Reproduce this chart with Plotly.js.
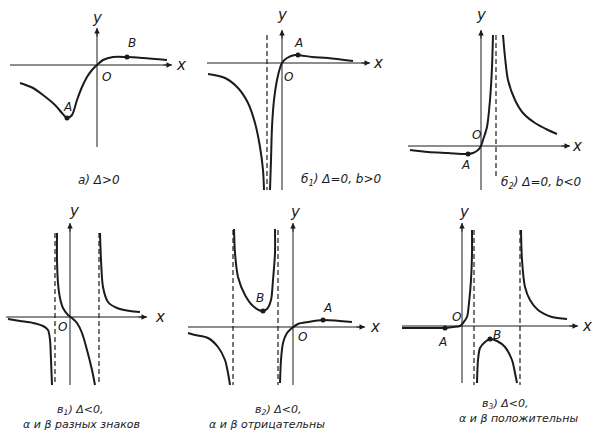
<!DOCTYPE html>
<html><head><meta charset="utf-8">
<script src="https://cdn.plot.ly/plotly-3.0.1.min.js"></script>
<style>html,body{margin:0;padding:0;background:#fff}#c{width:594px;height:433px}</style>
</head><body><div id="c"></div>
<script>
// ---- data (local coordinates, origin at the axes crossing, y up) ----
// panel a) Δ>0
const aX=[-77,-64,-54,-42,-35,-30,-25,-20,-15,-10,-5,0,6,16,30,46,70];
const aY=[-18,-23,-30,-40,-48,-53,-50,-35,-22,-12,-5,0,5,8,8,7,5];
const aPts=[[-30,30],[-53,8]];
// panel б1) Δ=0, b>0
const b1LX=[-74,-57,-44,-34,-27,-22,-19,-18];
const b1LY=[-11,-15,-25,-40,-60,-84,-107,-127];
const b1RX=[-12,-11,-10,-8,-5,-2,0,5,13,30,46,71];
const b1RY=[-127,-97,-64,-37,-17,-5,0,5,8,6,5,2];
const b1Asym=[-15];
const b1Pts=[[16],[8]];
// panel б2) Δ=0, b<0
const b2LX=[-71,-53,-33,-14,-8,-3,0,2,6,9,11,12];
const b2LY=[-4,-6,-7,-8,-7,-4,0,6,19,46,79,111];
const b2RX=[22,24,27,34,42,54,67,76];
const b2RY=[111,89,66,46,33,23,16,12];
const b2Asym=[15];
const b2Pts=[[-13],[-8]];
// panel в1) Δ<0, α и β разных знаков
const c1LX=[-62,-50,-37,-27,-22,-20,-19,-18];
const c1LY=[-2,-4,-6,-9,-13,-23,-43,-68];
const c1MX=[-13,-13,-12,-10,-7,-2,2,7,12,17,22,25];
const c1MY=[84,57,34,19,9,2,-1,-6,-16,-33,-53,-68];
const c1RX=[30,31,33,38,47,60,70];
const c1RY=[84,57,30,15,9,6,5];
const c1Asym=[-15,29];
// panel в2) Δ<0, α и β отрицательны
const c2LX=[-105,-98,-85,-75,-68,-65,-63];
const c2LY=[-6,-8,-11,-20,-33,-46,-58];
const c2MX=[-59,-58,-55,-48,-40,-31,-26,-22,-20,-18,-18];
const c2MY=[98,74,50,32,21,16,18,27,47,74,98];
const c2RX=[-13,-12,-10,-6,-1,5,15,30,59];
const c2RY=[-56,-33,-16,-6,-1,3,5,7,5];
const c2Asym=[-60,-15];
const c2Pts=[[-30,30],[16,7]];
// panel в3) Δ<0, α и β положительны
const c3LX=[-60,-40,-17,-9,-2,1,5,7,9,10,10];
const c3LY=[-2,-2,-2,-1,0,3,9,23,46,73,96];
const c3MX=[15,16,18,23,28,35,43,50,53,55];
const c3MY=[-57,-34,-22,-16,-13,-15,-21,-34,-47,-57];
const c3RX=[59,60,63,68,76,90,105];
const c3RY=[96,66,39,26,16,9,7];
const c3Asym=[12,58];
const c3Pts=[[-17,28],[-2,-13]];

// captions / labels
const captions=[
 ['а) Δ&gt;0'],
 ['б<sub>1</sub>) Δ=0, b&gt;0'],
 ['б<sub>2</sub>) Δ=0, b&lt;0'],
 ['в<sub>1</sub>) Δ&lt;0,','α и β разных знаков'],
 ['в<sub>2</sub>) Δ&lt;0,','α и β отрицательны'],
 ['в<sub>3</sub>) Δ&lt;0,','α и β положительны']
];

// ---- layout of panels (pixel boxes on the page, origin pixel) ----
const W=594,H=433;
const panels=[
 {box:[0,195,0,200],o:[97,65],curves:[[aX,aY]],asym:[],asymY:[0,0],pts:aPts,
  axX:[-87,75],axY:[-82,37],
  labels:[['y',0,47],['x',84,0],['O',9,-12],['A',-30,-42],['B',35,22]],
  cap:[[2,-115]],capSize:12},
 {box:[195,395,0,200],o:[282,63],curves:[[b1LX,b1LY],[b1RX,b1RY]],asym:b1Asym,asymY:[28,-127],pts:b1Pts,
  axX:[-75,88],axY:[-127,33],
  labels:[['y',0,48],['x',96,0],['O',6,-14],['A',16,20]],
  cap:[[59,-117]],capSize:12},
 {box:[395,594,0,200],o:[481,146],curves:[[b2LX,b2LY],[b2RX,b2RY]],asym:b2Asym,asymY:[111,-31],pts:b2Pts,
  axX:[-73,89],axY:[-44,116],
  labels:[['y',0,131],['x',96,0],['O',-5,11],['A',-16,-19]],
  cap:[[60,-37]],capSize:12},
 {box:[0,185,200,433],o:[70,317],curves:[[c1LX,c1LY],[c1MX,c1MY],[c1RX,c1RY]],asym:c1Asym,asymY:[84,-68],pts:[[],[]],
  axX:[-64,77],axY:[-68,94],
  labels:[['y',4,106],['x',90,0],['O',-8,-10]],
  cap:[[10,-93],[11,-107]],capSize:11},
 {box:[185,395,200,433],o:[293,327],curves:[[c2LX,c2LY],[c2MX,c2MY],[c2RX,c2RY]],asym:c2Asym,asymY:[97,-58],pts:c2Pts,
  axX:[-105,72],axY:[-58,104],
  labels:[['y',2,115],['x',82,0],['O',9,-10],['B',-33,29],['A',34,19]],
  cap:[[-15,-83],[-26,-97]],capSize:11},
 {box:[395,594,200,433],o:[462,326],curves:[[c3LX,c3LY],[c3MX,c3MY],[c3RX,c3RY]],asym:c3Asym,asymY:[96,-59],pts:c3Pts,
  axX:[-60,116],axY:[-57,103],
  labels:[['y',2,114],['x',125,0],['O',-6,9],['A',-20,-16],['B',35,-9]],
  cap:[[43,-78],[57,-92]],capSize:11}
];

const ink='#1b1b1b';
const data=[],annotations=[],layout={
 width:W,height:H,margin:{l:0,r:0,t:0,b:0},paper_bgcolor:'#fff',plot_bgcolor:'rgba(0,0,0,0)',
 showlegend:false,font:{family:'DejaVu Sans',color:ink}
};
panels.forEach((p,i)=>{
 const n=i+1, xs=n===1?'x':'x'+n, ys=n===1?'y':'y'+n;
 const [x0,x1,y0,y1]=p.box,[ox,oy]=p.o;
 layout[n===1?'xaxis':'xaxis'+n]={domain:[x0/W,x1/W],range:[x0-ox,x1-ox],visible:false,fixedrange:true,anchor:ys};
 layout[n===1?'yaxis':'yaxis'+n]={domain:[1-y1/H,1-y0/H],range:[oy-y1,oy-y0],visible:false,fixedrange:true,anchor:xs};
 // axes lines
 data.push({x:[p.axX[0],p.axX[1]],y:[0,0],xaxis:xs,yaxis:ys,mode:'lines',line:{color:ink,width:1},hoverinfo:'skip'});
 data.push({x:[0,0],y:[p.axY[0],p.axY[1]],xaxis:xs,yaxis:ys,mode:'lines',line:{color:ink,width:1},hoverinfo:'skip'});
 annotations.push({xref:xs,yref:ys,axref:xs,ayref:ys,x:p.axX[1],y:0,ax:p.axX[1]-10,ay:0,text:'',showarrow:true,arrowhead:2,arrowsize:1.1,arrowwidth:1,arrowcolor:ink,standoff:0,startstandoff:0});
 annotations.push({xref:xs,yref:ys,axref:xs,ayref:ys,x:0,y:p.axY[1],ax:0,ay:p.axY[1]-10,text:'',showarrow:true,arrowhead:2,arrowsize:1.1,arrowwidth:1,arrowcolor:ink,standoff:0,startstandoff:0});
 // asymptotes
 p.asym.forEach(a=>data.push({x:[a,a],y:p.asymY,xaxis:xs,yaxis:ys,mode:'lines',line:{color:ink,width:1.2,dash:'5px,3px'},hoverinfo:'skip'}));
 // curves
 p.curves.forEach(c=>data.push({x:c[0],y:c[1],xaxis:xs,yaxis:ys,mode:'lines',line:{color:ink,width:2,shape:'spline',smoothing:0.8},hoverinfo:'skip'}));
 // points
 if(p.pts[0].length) data.push({x:p.pts[0],y:p.pts[1],xaxis:xs,yaxis:ys,mode:'markers',marker:{color:ink,size:5},hoverinfo:'skip'});
 // labels
 p.labels.forEach(l=>annotations.push({xref:xs,yref:ys,x:l[1],y:l[2],text:'<i>'+l[0]+'</i>',showarrow:false,font:{size:l[0]==='x'||l[0]==='y'?15:12,family:'DejaVu Sans',color:ink}}));
 // captions
 captions[i].forEach((t,k)=>annotations.push({xref:xs,yref:ys,x:p.cap[k][0],y:p.cap[k][1],text:'<i>'+t+'</i>',showarrow:false,borderpad:0,font:{size:p.capSize,family:'DejaVu Sans',color:ink}}));
});
layout.annotations=annotations;
Plotly.newPlot('c',data,layout,{staticPlot:true,displayModeBar:false});
</script></body></html>
